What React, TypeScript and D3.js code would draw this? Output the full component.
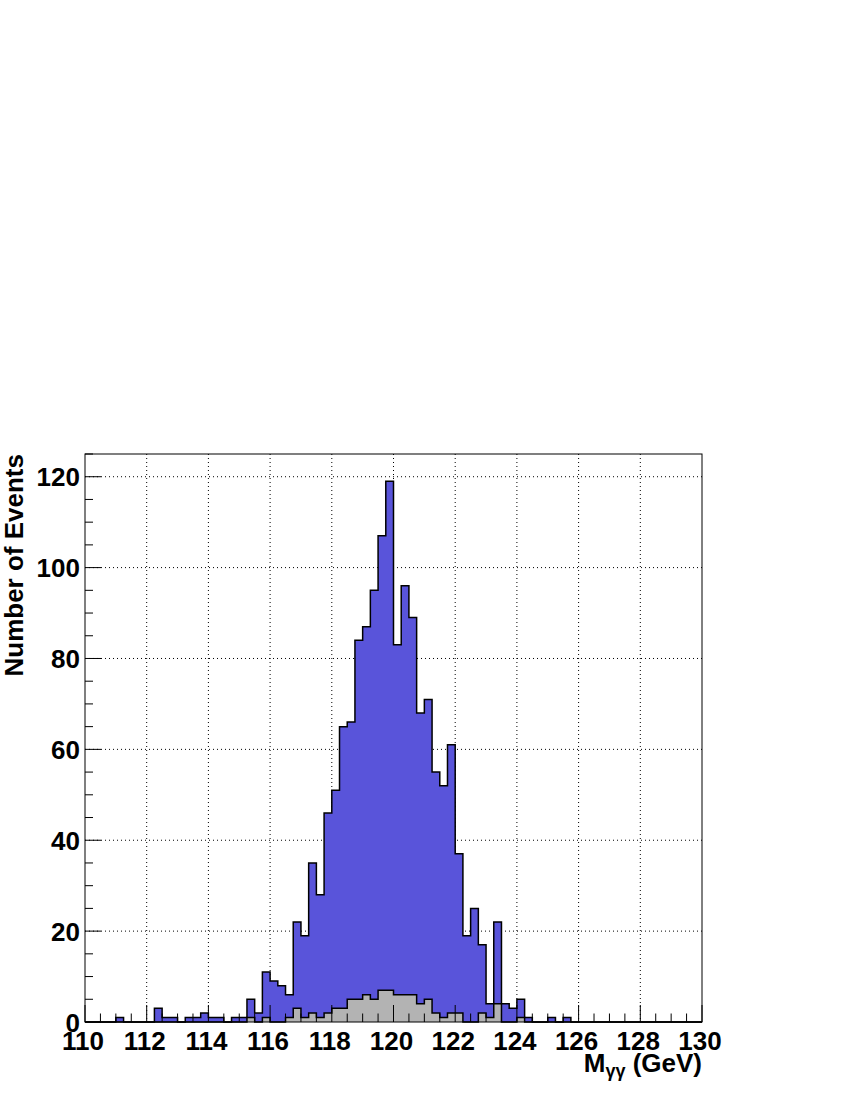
import React from "react";
import * as d3 from "d3";

const binLow = 110;
const binWidth = 0.25;
const signalCounts = [
  0, 0, 0, 0, 1, 0, 0, 0, 0, 3,
  1, 1, 0, 1, 1, 2, 1, 1, 0, 1,
  1, 5, 2, 11, 9, 8, 6, 22, 19, 35,
  28, 46, 51, 65, 66, 84, 87, 95, 107, 119,
  83, 96, 89, 68, 71, 55, 52, 61, 37, 19,
  25, 17, 4, 22, 4, 3, 5, 1, 0, 0,
  1, 0, 1, 0, 0, 0, 0, 0, 0, 0,
  0, 0, 0, 0, 0, 0, 0, 0, 0, 0,
];
const backgroundCounts = [
  0, 0, 0, 0, 0, 0, 0, 0, 0, 0,
  0, 0, 0, 0, 0, 0, 0, 0, 0, 0,
  0, 1, 0, 1, 0, 0, 1, 3, 1, 2,
  1, 2, 3, 3, 5, 5, 6, 5, 7, 7,
  6, 6, 6, 4, 5, 2, 1, 2, 2, 0,
  0, 2, 1, 4, 0, 0, 1, 0, 0, 0,
  0, 0, 0, 0, 0, 0, 0, 0, 0, 0,
  0, 0, 0, 0, 0, 0, 0, 0, 0, 0,
];
const xTicks = [110, 112, 114, 116, 118, 120, 122, 124, 126, 128, 130];
const yTicks = [0, 20, 40, 60, 80, 100, 120];

const W = 850;
const H = 1100;
const L = 85, R = 702, T = 454, B = 1022;
const FONT = "'Liberation Sans', Arial, Helvetica, sans-serif";
const FS = 26;

export default function App() {
  const x = d3.scaleLinear().domain([110, 130]).range([L, R]);
  const y = d3.scaleLinear().domain([0, 125]).range([B, T]);

  const toPts = (vals: number[]) => {
    const pts = vals.map((v, i) => [binLow + i * binWidth, v] as [number, number]);
    pts.push([binLow + vals.length * binWidth, vals[vals.length - 1]]);
    return pts;
  };
  const area = d3
    .area<[number, number]>()
    .x((d) => x(d[0]))
    .y0(y(0))
    .y1((d) => y(d[1]))
    .curve(d3.curveStepAfter);
  const line = d3
    .line<[number, number]>()
    .x((d) => x(d[0]))
    .y((d) => y(d[1]))
    .curve(d3.curveStepAfter);

  const sigPts = toPts(signalCounts);
  const bkgPts = toPts(backgroundCounts);

  const xMinor = d3.range(110, 130.001, 0.5);
  const yMinor = d3.range(0, 125.001, 5);

  return (
    <svg
      width={W}
      height={H}
      style={{ position: "absolute", left: 0, top: 0, background: "#fff" }}
    >
      <rect x={0} y={0} width={W} height={H} fill="#fff" />
      {/* grid */}
      <g stroke="#000" strokeWidth={1} strokeDasharray="1,3">
        {xTicks.slice(1, -1).map((t) => (
          <line key={"gx" + t} x1={x(t)} x2={x(t)} y1={T} y2={B} />
        ))}
        {yTicks.slice(1).map((t) => (
          <line key={"gy" + t} x1={L} x2={R} y1={y(t)} y2={y(t)} />
        ))}
      </g>
      {/* histograms */}
      <path d={area(sigPts) || ""} fill="#5954da" stroke="none" />
      <path d={line(sigPts) || ""} fill="none" stroke="#000" strokeWidth={1.5} />
      <path d={area(bkgPts) || ""} fill="#b3b3b3" stroke="none" />
      <path d={line(bkgPts) || ""} fill="none" stroke="#000" strokeWidth={1.5} />
      {/* frame */}
      <rect x={L} y={T} width={R - L} height={B - T} fill="none" stroke="#000" strokeWidth={1} />
      {/* ticks */}
      <g stroke="#000" strokeWidth={1}>
        {xMinor.map((t) => {
          const major = Math.abs(t / 2 - Math.round(t / 2)) < 1e-6;
          return (
            <line key={"tx" + t} x1={x(t)} x2={x(t)} y1={B} y2={B - (major ? 17 : 8.5)} />
          );
        })}
        {yMinor.map((t) => {
          const major = t % 20 === 0;
          return (
            <line key={"ty" + t} x1={L} x2={L + (major ? 16 : 8)} y1={y(t)} y2={y(t)} />
          );
        })}
      </g>
      {/* tick labels */}
      <g fontFamily={FONT} fontWeight="bold" fontSize={FS} fill="#000">
        {xTicks.map((t) => (
          <text key={"lx" + t} x={x(t) - 2} y={1050} textAnchor="middle">
            {t}
          </text>
        ))}
        {yTicks.map((t) => (
          <text key={"ly" + t} x={80} y={y(t) + 9.5} textAnchor="end">
            {t}
          </text>
        ))}
      </g>
      {/* axis titles */}
      <text
        fontFamily={FONT}
        fontWeight="bold"
        fontSize={FS}
        textAnchor="end"
        transform={`translate(23,${T}) rotate(-90)`}
      >
        Number of Events
      </text>
      <text
        fontFamily={FONT}
        fontWeight="bold"
        fontSize={FS}
        textAnchor="end"
        x={R}
        y={1072}
      >
        M
        <tspan fontSize={18} dy={5}>γγ</tspan>
        <tspan dy={-5}> (GeV)</tspan>
      </text>
    </svg>
  );
}
